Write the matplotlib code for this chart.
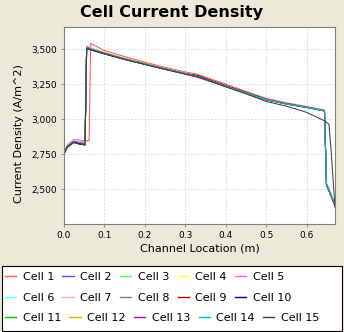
import matplotlib
matplotlib.use('Agg')
import matplotlib.pyplot as plt
from matplotlib.lines import Line2D
from matplotlib.patches import Rectangle
from matplotlib.ticker import FuncFormatter, MultipleLocator

# channel positions (m) shared by all cells
x_pos = [0.000, 0.008, 0.024, 0.040, 0.052, 0.056, 0.062, 0.066, 0.100, 0.150,
         0.200, 0.250, 0.300, 0.330, 0.400, 0.450, 0.500, 0.550, 0.600, 0.644,
         0.649, 0.655, 0.660, 0.670]

# current density (A/m^2) per cell
cell_1 = [2760, 2815, 2858, 2850, 2846, 2846, 2848, 3543, 3492, 3448, 3408, 3372, 3338, 3322, 3252, 3200, 3150, 3118, 3092, 3066, 2540, 2498, 2460, 2378]
cell_2 = [2752, 2800, 2835, 2822, 2816, 3505, 3500, 3496, 3468, 3428, 3393, 3358, 3326, 3312, 3238, 3190, 3140, 3110, 3085, 3060, 2528, 2490, 2452, 2385]
cell_3 = [2755, 2805, 2840, 2828, 2822, 3515, 3510, 3505, 3475, 3433, 3398, 3362, 3328, 3308, 3236, 3188, 3140, 3110, 3086, 3062, 2530, 2492, 2455, 2388]
cell_4 = [2756, 2806, 2842, 2830, 2825, 3520, 3513, 3507, 3476, 3434, 3398, 3362, 3328, 3306, 3236, 3188, 3140, 3110, 3086, 3062, 2532, 2494, 2456, 2390]
cell_5 = [2757, 2808, 2845, 2835, 2830, 3522, 3512, 3506, 3472, 3430, 3394, 3357, 3322, 3300, 3234, 3187, 3140, 3111, 3087, 3063, 2535, 2495, 2458, 2392]
cell_6 = [2756, 2806, 2843, 2832, 2828, 3518, 3512, 3506, 3474, 3432, 3396, 3360, 3326, 3305, 3236, 3188, 3141, 3111, 3087, 3064, 2545, 2505, 2466, 2398]
cell_7 = [2758, 2812, 2855, 2845, 2840, 3525, 3518, 3512, 3480, 3438, 3400, 3365, 3332, 3316, 3245, 3196, 3146, 3115, 3090, 3064, 2536, 2496, 2458, 2385]
cell_8 = [2754, 2802, 2836, 2825, 2820, 3510, 3505, 3500, 3470, 3430, 3394, 3359, 3326, 3310, 3238, 3190, 3141, 3111, 3086, 3061, 2530, 2491, 2453, 2386]
cell_9 = [2755, 2805, 2840, 2828, 2823, 3512, 3506, 3501, 3471, 3431, 3396, 3361, 3328, 3314, 3242, 3194, 3144, 3113, 3088, 3062, 2532, 2492, 2454, 2384]
cell_10 = [2753, 2801, 2834, 2822, 2817, 3506, 3501, 3497, 3468, 3428, 3393, 3358, 3326, 3312, 3238, 3190, 3140, 3110, 3085, 3060, 2529, 2490, 2452, 2385]
cell_11 = [2755, 2804, 2838, 2827, 2822, 3514, 3508, 3503, 3473, 3432, 3397, 3361, 3327, 3309, 3237, 3189, 3140, 3110, 3086, 3061, 2531, 2492, 2454, 2387]
cell_12 = [2756, 2806, 2841, 2829, 2824, 3516, 3510, 3504, 3474, 3433, 3397, 3361, 3327, 3307, 3236, 3188, 3140, 3110, 3086, 3062, 2532, 2493, 2455, 2389]
cell_13 = [2756, 2807, 2843, 2832, 2826, 3517, 3509, 3503, 3471, 3430, 3394, 3358, 3323, 3302, 3235, 3187, 3140, 3110, 3086, 3062, 2534, 2494, 2457, 2391]
cell_14 = [2755, 2805, 2840, 2829, 2824, 3514, 3508, 3502, 3472, 3431, 3395, 3360, 3326, 3306, 3236, 3188, 3140, 3110, 3086, 3063, 2542, 2502, 2463, 2396]
cell_15 = [2754, 2803, 2837, 2826, 2821, 3508, 3503, 3498, 3469, 3429, 3393, 3358, 3324, 3306, 3232, 3182, 3128, 3094, 3050, 2990, 2978, 2965, 2790, 2372]

cells = [cell_1, cell_2, cell_3, cell_4, cell_5, cell_6, cell_7, cell_8,
         cell_9, cell_10, cell_11, cell_12, cell_13, cell_14, cell_15]
labels = ['Cell %d' % (i + 1) for i in range(len(cells))]
colors = ['#FF5555', '#5555FF', '#55FF55', '#FFFF55', '#FF55FF', '#55FFFF',
          '#FFAFAF', '#808080', '#C00000', '#0000C0', '#00C000', '#C0C000',
          '#C000C0', '#00C0C0', '#404040']

bg = '#ECE9D8'
fig = plt.figure(figsize=(3.44, 3.32), dpi=100, facecolor=bg)
ax = fig.add_axes([64 / 344, 1 - 224 / 332, 271 / 344, 197 / 332])
ax.set_facecolor('white')

for y, lab, c in zip(cells, labels, colors):
    ax.plot(x_pos, y, color=c, lw=0.75, label=lab)

ax.set_xlim(0, 0.67)
ax.set_ylim(2252, 3660)
ax.xaxis.set_major_locator(MultipleLocator(0.1))
ax.yaxis.set_major_locator(MultipleLocator(250))
ax.xaxis.set_major_formatter(FuncFormatter(lambda v, p: '%.1f' % v))
ax.yaxis.set_major_formatter(FuncFormatter(lambda v, p: '{:,.0f}'.format(v)))
ax.grid(True, color='#D4D4D4', ls=(0, (2, 2)), lw=0.6)
ax.set_axisbelow(True)
for s in ax.spines.values():
    s.set_color('#808080')
    s.set_linewidth(0.8)
ax.tick_params(length=2, width=0.6, color='#808080', labelsize=6.5, pad=3)

ax.set_xlabel('Channel Location (m)', fontsize=8)
ax.xaxis.set_label_coords(0.5, -0.1)
ax.set_ylabel('Current Density (A/m^2)', fontsize=8, va='center')
ax.yaxis.set_label_coords(-0.166, 0.46)

fig.text(172 / 344, 1 - 12 / 332, 'Cell Current Density', ha='center',
         va='center', fontsize=11.5, fontweight='bold')

# legend box at the bottom
fig.add_artist(Rectangle((2 / 344, 1 / 332), 340 / 344, 65 / 332,
                         transform=fig.transFigure, facecolor='white',
                         edgecolor='black', lw=0.8))
handles = [Line2D([], [], color=c, lw=1.0) for c in colors]
row_y = [277, 298, 318]
for r in range(3):
    leg = fig.legend(handles[r * 5:(r + 1) * 5], labels[r * 5:(r + 1) * 5],
                     loc='center left', bbox_to_anchor=(5 / 344, 1 - row_y[r] / 332),
                     ncol=5, frameon=False, fontsize=8, handlelength=1.0,
                     handletextpad=0.6, columnspacing=0.75, borderpad=0,
                     borderaxespad=0)

fig.savefig('out.png', dpi=100, facecolor=bg)
